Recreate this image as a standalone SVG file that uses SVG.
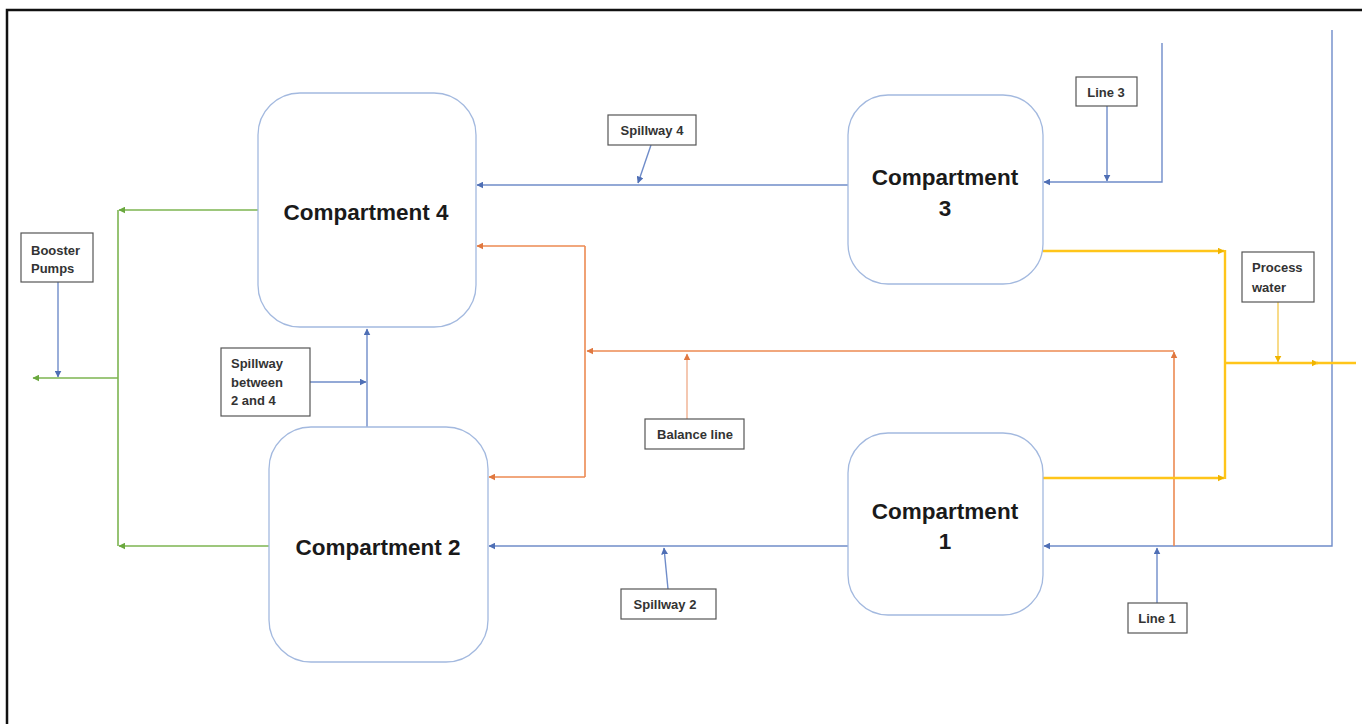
<svg xmlns="http://www.w3.org/2000/svg" width="1362" height="724" viewBox="0 0 1362 724">
<style>
.comp{fill:#fff;stroke:#a3b9df;stroke-width:1.3}
.ct{font-family:"Liberation Sans",Arial,sans-serif;font-weight:bold;font-size:22.5px;fill:#1a1a1a;text-anchor:middle}
.lb{fill:#fff;stroke:#555;stroke-width:1.2}
.lt{font-family:"Liberation Sans",Arial,sans-serif;font-weight:bold;font-size:13px;fill:#333}
.c{fill:none}
.b{stroke:#6f8cc9;stroke-width:1.4}
.g{stroke:#7cb450;stroke-width:1.6}
.o{stroke:#ec8a52;stroke-width:1.6}
.ol{stroke:#f0b090;stroke-width:1.4}
.y{stroke:#ffc51a;stroke-width:2.4}
.yl{stroke:#f5c84a;stroke-width:1.3}
</style>
<defs>
<marker id="mb" viewBox="0 0 6 6" refX="5.5" refY="3" markerWidth="7" markerHeight="7" markerUnits="userSpaceOnUse" orient="auto"><path d="M0,0 L6,3 L0,6 z" fill="#4f6fb5"/></marker>
<marker id="mg" viewBox="0 0 6 6" refX="5.5" refY="3" markerWidth="7" markerHeight="7" markerUnits="userSpaceOnUse" orient="auto"><path d="M0,0 L6,3 L0,6 z" fill="#6aa83e"/></marker>
<marker id="mo" viewBox="0 0 6 6" refX="5.5" refY="3" markerWidth="7" markerHeight="7" markerUnits="userSpaceOnUse" orient="auto"><path d="M0,0 L6,3 L0,6 z" fill="#e07840"/></marker>
<marker id="my" viewBox="0 0 6 6" refX="5.5" refY="3" markerWidth="7" markerHeight="7" markerUnits="userSpaceOnUse" orient="auto"><path d="M0,0 L6,3 L0,6 z" fill="#f0b400"/></marker>
</defs>
<rect x="0" y="0" width="1362" height="724" fill="#fff"/>
<rect x="7" y="10" width="1380" height="740" fill="none" stroke="#111" stroke-width="2.5"/>

<g id="connectors" class="c">
<path class="b" d="M848,185 H477" marker-end="url(#mb)"/>
<path class="b" d="M651,145 L638,183" marker-end="url(#mb)"/>
<path class="b" d="M1162,43 V182 H1044" marker-end="url(#mb)"/>
<path class="b" d="M1107,106 V181" marker-end="url(#mb)"/>
<path class="b" d="M367,427 V329" marker-end="url(#mb)"/>
<path class="b" d="M310,382 H366" marker-end="url(#mb)"/>
<path class="b" d="M1332,30 V546 H1044" marker-end="url(#mb)"/>
<path class="b" d="M1157,603 V548" marker-end="url(#mb)"/>
<path class="b" d="M848,546 H489" marker-end="url(#mb)"/>
<path class="b" d="M668,589 L664,548" marker-end="url(#mb)"/>
<path class="b" d="M58,282 V377" marker-end="url(#mb)"/>

<path class="g" d="M258,210 H119" marker-end="url(#mg)"/>
<path class="g" d="M269,546 H119" marker-end="url(#mg)"/>
<path class="g" d="M118,210 V546"/>
<path class="g" d="M118,378 H33" marker-end="url(#mg)"/>

<path class="o" d="M1174,546 V352" marker-end="url(#mo)"/>
<path class="o" d="M1174,351 H587" marker-end="url(#mo)"/>
<path class="o" d="M585,246 V477"/>
<path class="o" d="M585,246 H477" marker-end="url(#mo)"/>
<path class="o" d="M585,477 H489" marker-end="url(#mo)"/>
<path class="ol" d="M687,419 V354" marker-end="url(#mo)"/>

<path class="y" d="M1043,251 H1224" marker-end="url(#my)"/>
<path class="y" d="M1043,478 H1224" marker-end="url(#my)"/>
<path class="y" d="M1225,250 V479"/>
<path class="y" d="M1225,363 H1318" marker-end="url(#my)"/>
<path class="y" d="M1316,363 H1356"/>
<path class="yl" d="M1278,302 V362" marker-end="url(#my)"/>
</g>

<g id="compartment4">
<rect class="comp" x="258" y="93" width="218" height="234" rx="42"/>
<text class="ct" x="366" y="220">Compartment 4</text>
</g>
<g id="compartment3">
<rect class="comp" x="848" y="95" width="195" height="189" rx="40"/>
<text class="ct" x="945" y="185">Compartment</text>
<text class="ct" x="945" y="216">3</text>
</g>
<g id="compartment2">
<rect class="comp" x="269" y="427" width="219" height="235" rx="42"/>
<text class="ct" x="378" y="555">Compartment 2</text>
</g>
<g id="compartment1">
<rect class="comp" x="848" y="433" width="195" height="182" rx="40"/>
<text class="ct" x="945" y="519">Compartment</text>
<text class="ct" x="945" y="549">1</text>
</g>

<g id="label-spillway4">
<rect class="lb" x="608" y="115" width="88" height="30"/>
<text class="lt" x="652" y="135" text-anchor="middle">Spillway 4</text>
</g>
<g id="label-line3">
<rect class="lb" x="1076" y="77" width="61" height="29"/>
<text class="lt" x="1106" y="97" text-anchor="middle">Line 3</text>
</g>
<g id="label-booster">
<rect class="lb" x="21" y="233" width="72" height="49"/>
<text class="lt" x="31" y="255">Booster</text>
<text class="lt" x="31" y="273">Pumps</text>
</g>
<g id="label-spillway24">
<rect class="lb" x="221" y="348" width="89" height="68"/>
<text class="lt" x="231" y="368">Spillway</text>
<text class="lt" x="231" y="387">between</text>
<text class="lt" x="231" y="405">2 and 4</text>
</g>
<g id="label-balance">
<rect class="lb" x="645" y="419" width="99" height="30"/>
<text class="lt" x="695" y="439" text-anchor="middle">Balance line</text>
</g>
<g id="label-spillway2">
<rect class="lb" x="621" y="589" width="95" height="30"/>
<text class="lt" x="665" y="609" text-anchor="middle">Spillway 2</text>
</g>
<g id="label-line1">
<rect class="lb" x="1128" y="603" width="59" height="30"/>
<text class="lt" x="1157" y="623" text-anchor="middle">Line 1</text>
</g>
<g id="label-process">
<rect class="lb" x="1242" y="252" width="72" height="50"/>
<text class="lt" x="1252" y="272">Process</text>
<text class="lt" x="1252" y="292">water</text>
</g>
</svg>
